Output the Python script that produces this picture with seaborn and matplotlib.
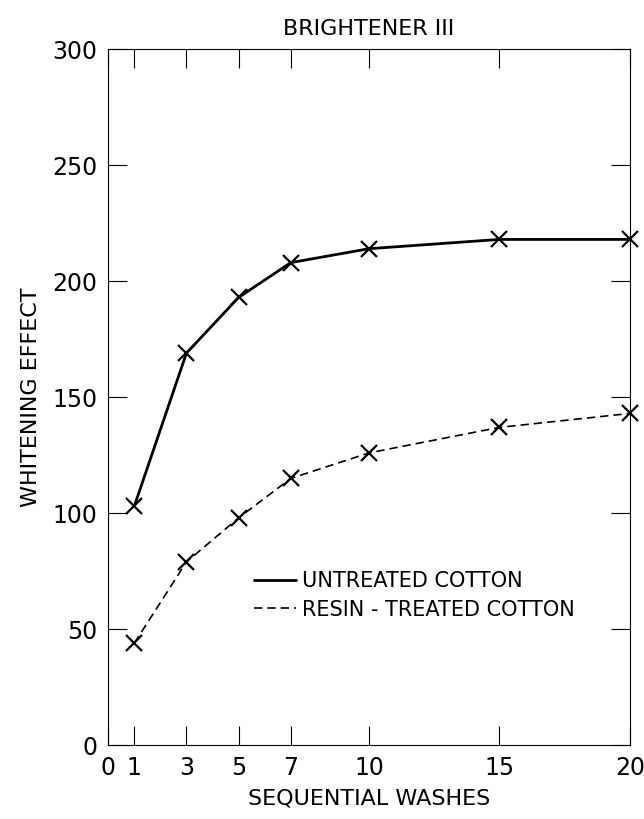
import numpy as np
import pandas as pd
import seaborn as sns
import matplotlib.pyplot as plt

# datos
washes = [1, 3, 5, 7, 10, 15, 20]
untreated = [103, 169, 193, 208, 214, 218, 218]
resin = [44, 79, 98, 115, 126, 137, 143]

x_ticks = [0, 1, 3, 5, 7, 10, 15, 20]
y_ticks = [0, 50, 100, 150, 200, 250, 300]
label_untreated = "UNTREATED COTTON"
label_resin = "RESIN - TREATED COTTON"

sns.set_theme(style="white")
plt.rcParams['font.family'] = ['DejaVu Sans']

fig = plt.figure(figsize=(6.44, 8.19), dpi=100)
ax = fig.add_axes([0.168, 0.090, 0.810, 0.850])

df_u = pd.DataFrame({"wash": washes, "value": untreated})
df_r = pd.DataFrame({"wash": washes, "value": resin})

sns.lineplot(data=df_u, x="wash", y="value", ax=ax, color="black", lw=2.0,
             marker="x", markersize=11, markeredgewidth=1.6, markeredgecolor="black",
             label=label_untreated, clip_on=False)
sns.lineplot(data=df_r, x="wash", y="value", ax=ax, color="black", lw=1.2,
             linestyle=(0, (5, 3)), marker="x", markersize=11, markeredgewidth=1.6,
             markeredgecolor="black", label=label_resin, clip_on=False)

ax.set_xlim(0, 20)
ax.set_ylim(0, 300)
ax.set_xticks(x_ticks)
ax.set_yticks(y_ticks)
ax.set_xticklabels([str(t) for t in x_ticks])
ax.set_yticklabels([str(t) for t in y_ticks])

ax.tick_params(direction="in", length=14, width=0.8, color="black",
               top=True, right=True, bottom=True, left=True,
               labelsize=17, labelcolor="black", pad=8)
for s in ax.spines.values():
    s.set_color("black")
    s.set_linewidth(0.8)

ax.set_xlabel("SEQUENTIAL WASHES", fontsize=16, color="black", labelpad=6)
ax.set_ylabel("WHITENING EFFECT", fontsize=16, color="black", labelpad=8)
ax.set_title("BRIGHTENER III", fontsize=16, color="black", pad=10)

leg = ax.legend(loc="center right", bbox_to_anchor=(0.93, 0.215), frameon=False,
                fontsize=15, handlelength=2.0, handletextpad=0.3, labelspacing=0.4,
                labelcolor="black")
for h in leg.get_lines():
    h.set_marker("")

fig.savefig("out.png", dpi=100, facecolor="white")
